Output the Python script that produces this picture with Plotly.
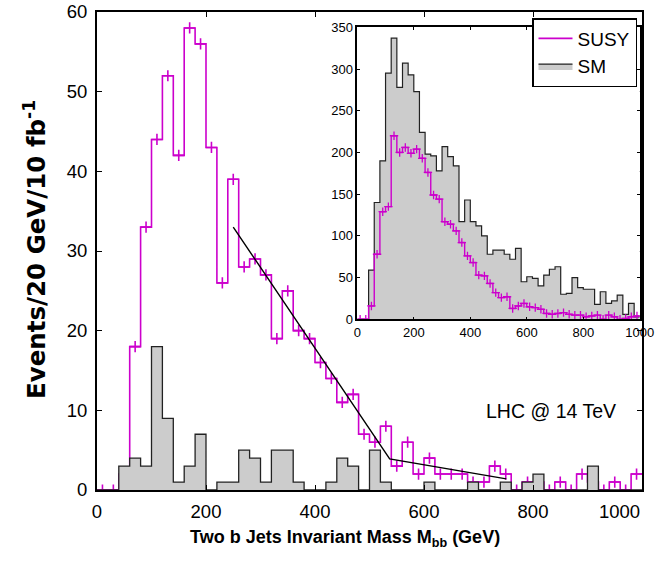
import numpy as np
import plotly.graph_objects as go

# ---------------- data ----------------
bin_edges = list(range(0, 1001, 20))  # GeV, 20 GeV bins

# main panel: events / 20 GeV / 10 fb^-1
susy_main = [0, 0, 2, 18, 33, 44, 52, 42, 58, 56,
             43, 26, 39, 28, 29, 27, 19, 25, 20, 19,
             16, 14, 11, 12, 7, 6, 8, 3, 6, 2,
             4, 2, 2, 2, 1, 1, 3, 2, 0, 1,
             1, 0, 1, 0, 2, 1, 0, 1, 0, 2]
sm_main = [0, 0, 3, 4, 3, 18, 9, 1, 3, 7,
           0, 1, 1, 5, 4, 1, 5, 5, 1, 0,
           0, 1, 4, 3, 0, 5, 1, 0, 0, 0,
           1, 0, 0, 0, 1, 0, 0, 1, 0, 1,
           2, 0, 0, 0, 0, 3, 0, 0, 0, 0]

# inset panel
susy_inset = [0, 0, 16, 78, 129, 135, 220, 200, 206, 199,
              204, 193, 176, 149, 144, 117, 114, 106, 92, 76,
              68, 53, 52, 43, 32, 26, 27, 13, 16, 19,
              15, 14, 12, 7, 6, 7, 8, 6, 5, 5,
              3, 4, 5, 0, 5, 3, 0, 1, 3, 4]
sm_inset = [0, 0, 59, 140, 190, 295, 337, 278, 307, 293,
            273, 224, 198, 196, 178, 207, 195, 184, 117, 143,
            117, 112, 100, 78, 83, 83, 78, 72, 85, 45,
            51, 49, 40, 53, 60, 63, 30, 31, 50, 38,
            36, 36, 18, 33, 19, 22, 29, 6, 19, 3]

# straight-line guide drawn over the SUSY tail
fit_x = [250, 537, 751]
fit_y = [33, 3.9, 1.4]

main_x_ticks = [0, 200, 400, 600, 800, 1000]
main_x_labels = ["0", "200", "400", "600", "800", "1000"]
main_y_ticks = [0, 10, 20, 30, 40, 50, 60]
inset_x_ticks = [0, 200, 400, 600, 800, 1000]
inset_y_ticks = [0, 50, 100, 150, 200, 250, 300, 350]

# ---------------- styling ----------------
MAG = "#CC00CC"
GRAY = "#CCCCCC"
FONT = "Liberation Sans, Arial, sans-serif"
WIDE = "DejaVu Sans, Liberation Sans, sans-serif"

edges = np.array(bin_edges, dtype=float)
centers = (edges[:-1] + edges[1:]) / 2


def step_y(vals):
    return list(vals) + [vals[-1]]


fig = go.Figure()

# ----- main panel: SUSY below SM -----
fig.add_trace(go.Scatter(
    x=edges, y=step_y(susy_main), mode="lines", line_shape="hv",
    line=dict(color=MAG, width=1.6), name="SUSY", xaxis="x", yaxis="y",
    showlegend=True))
fig.add_trace(go.Scatter(
    x=centers, y=susy_main, mode="markers",
    marker=dict(symbol="cross-thin", size=8, line=dict(color=MAG, width=1.6)),
    showlegend=False, hoverinfo="skip", xaxis="x", yaxis="y"))
fig.add_trace(go.Scatter(
    x=edges, y=step_y(sm_main), mode="lines", line_shape="hv",
    fill="tozeroy", fillcolor=GRAY, line=dict(color="#222222", width=1.3),
    name="SM", xaxis="x", yaxis="y", showlegend=True))
fig.add_trace(go.Scatter(
    x=fit_x, y=fit_y, mode="lines", line=dict(color="black", width=1.4),
    showlegend=False, hoverinfo="skip", xaxis="x", yaxis="y"))

# ----- inset: SM below SUSY -----
fig.add_trace(go.Scatter(
    x=edges, y=step_y(sm_inset), mode="lines", line_shape="hv",
    fill="tozeroy", fillcolor=GRAY, line=dict(color="#222222", width=1.2),
    showlegend=False, xaxis="x2", yaxis="y2"))
fig.add_trace(go.Scatter(
    x=edges, y=step_y(susy_inset), mode="lines", line_shape="hv",
    line=dict(color=MAG, width=1.4), showlegend=False,
    xaxis="x2", yaxis="y2"))
fig.add_trace(go.Scatter(
    x=centers, y=susy_inset, mode="markers",
    marker=dict(symbol="cross-thin", size=6, line=dict(color=MAG, width=1.3)),
    showlegend=False, hoverinfo="skip", xaxis="x2", yaxis="y2"))

W, H = 663, 562
ML, MR, MT, MB = 97, 21, 12, 72
pw, ph = W - ML - MR, H - MT - MB


def px_x(p):
    return (p - ML) / pw


def px_y(p):
    return (H - MB - p) / ph


common = dict(showgrid=False, zeroline=False, automargin=False,
              tickcolor="black", linecolor="black", showline=True,
              ticklabeloverflow="allow")

# the last main x label is drawn right-aligned to the frame, as in the original
shown_x_labels = main_x_labels[:-1] + [""]

fig.update_layout(
    width=W, height=H,
    margin=dict(l=ML, r=MR, t=MT, b=MB, pad=0, autoexpand=False),
    paper_bgcolor="white", plot_bgcolor="white",
    font=dict(family=FONT, color="black", size=19),
    showlegend=True,
    legend=dict(
        x=px_x(532), y=px_y(18), xanchor="left", yanchor="top",
        bgcolor="white", bordercolor="black", borderwidth=1.5,
        font=dict(size=19, family=FONT), tracegroupgap=0,
        itemwidth=34, traceorder="normal"),
    xaxis=dict(
        domain=[0, 1], range=[0, 1000], tickvals=main_x_ticks,
        ticktext=shown_x_labels,
        ticks="inside", ticklen=5, tickwidth=1.2,
        linewidth=2, mirror="ticks", tickfont=dict(size=18.5, family=FONT),
        ticklabelstandoff=4, anchor="y", **common),
    yaxis=dict(
        domain=[0, 1], range=[0, 60], tickvals=main_y_ticks,
        ticks="inside", ticklen=5, tickwidth=1.2,
        linewidth=2, mirror="ticks", tickfont=dict(size=18.5, family=FONT),
        ticklabelstandoff=4, anchor="x", **common),
    xaxis2=dict(
        domain=[px_x(357.3), px_x(639.8)], range=[0, 1000],
        tickvals=inset_x_ticks, ticks="inside", ticklen=3, tickwidth=1,
        linewidth=1.5, mirror="ticks",
        tickfont=dict(size=13, family=FONT), anchor="y2", **common),
    yaxis2=dict(
        domain=[px_y(319.3), px_y(27.3)], range=[0, 350],
        tickvals=inset_y_ticks, ticks="inside", ticklen=3, tickwidth=1,
        linewidth=1.5, mirror="ticks",
        tickfont=dict(size=13, family=FONT), anchor="x2", **common),
    annotations=[
        dict(text=main_x_labels[-1],
             xref="paper", yref="paper", x=1.0, y=px_y(511),
             xanchor="right", yanchor="middle", showarrow=False,
             font=dict(size=18.5, family=FONT)),
        dict(text="<b>Two b Jets Invariant Mass M<sub>bb</sub> (GeV)</b>",
             xref="paper", yref="paper", x=px_x(345), y=px_y(538),
             xanchor="center", yanchor="middle", showarrow=False,
             font=dict(size=18, family=FONT)),
        dict(text="<b>Events/20 GeV/10 fb<sup>-1</sup></b>",
             xref="paper", yref="paper", x=px_x(35), y=px_y(250),
             xanchor="center", yanchor="middle", showarrow=False,
             textangle=-90, font=dict(size=24.5, family=WIDE)),
        dict(text="LHC @ 14 TeV",
             xref="paper", yref="paper", x=px_x(551), y=px_y(411),
             xanchor="center", yanchor="middle", showarrow=False,
             font=dict(size=19.5, family=FONT)),
    ],
)

fig.write_html("out.html",
               config={"displayModeBar": False},
               post_script="document.body.style.margin='0px';")
